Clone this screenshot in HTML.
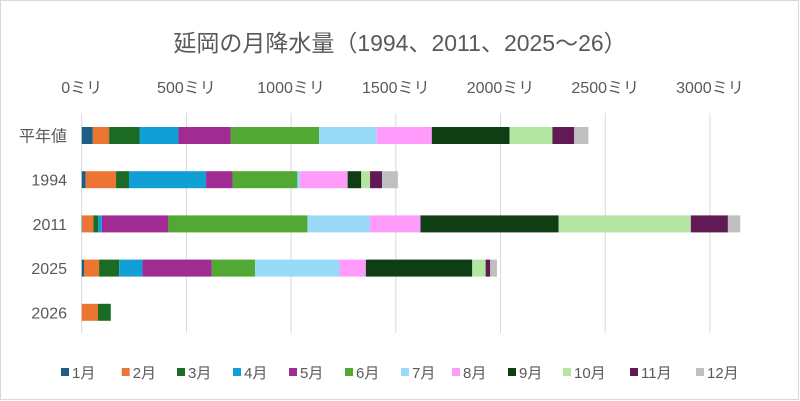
<!DOCTYPE html>
<html><head><meta charset="utf-8"><style>
html,body{margin:0;padding:0;background:#fff;}
svg{display:block;font-family:"Liberation Sans","Noto Sans CJK JP",sans-serif;}
</style></head><body>
<svg id="chart" width="800" height="401">
<rect x="0.5" y="0.5" width="798" height="399" fill="#fff" stroke="#d9d9d9"/>
<text x="400" y="51" text-anchor="middle" font-size="23" fill="#595959">延岡の月降水量（1994、2011、2025～26）</text>
<g id="grid"></g><g id="bars"></g><g id="legend"></g>
</svg>
<script>
const categories=["平年値","1994","2011","2025","2026"];
const months=["1月","2月","3月","4月","5月","6月","7月","8月","9月","10月","11月","12月"];
const colors=["#1b5e86","#ed7533","#1b6b24","#119fd6","#a02b92","#51a832","#99dbf7","#ff9bfb","#0f3e15","#b5e5a2","#621a55","#bfbfbf"];
const heinen=[53,78,145,186,250,422,275,263,371,205,104,68];
const y1994=[19,145,62,368,126,310,13,227,65,42,57,76];
const y2011=[3,53,22,18,318,664,299,241,659,632,177,59];
const y2025=[11,72,96,111,331,207,403,126,508,64,22,32];
const y2026=[0,78,61,0,0,0,0,0,0,0,0,0];
const ticks=[0,500,1000,1500,2000,2500,3000];
const series=[heinen,y1994,y2011,y2025,y2026];
const NS="http://www.w3.org/2000/svg";
const x0=81.7,pxPer=0.2094;
function xs(v){return x0+v*pxPer;}
function yc(i){return 135.5+i*44.2;}
const grid=document.getElementById('grid');
ticks.forEach(t=>{
 const l=document.createElementNS(NS,'line');
 l.setAttribute('x1',xs(t));l.setAttribute('x2',xs(t));l.setAttribute('y1',113);l.setAttribute('y2',333);
 l.setAttribute('stroke','#d9d9d9');l.setAttribute('stroke-width','1');
 
 
 grid.appendChild(l);
 const tx=document.createElementNS(NS,'text');
 tx.setAttribute('x',xs(t));tx.setAttribute('y',93);tx.setAttribute('text-anchor','middle');
 tx.setAttribute('font-size','16');tx.setAttribute('fill','#595959');
 tx.textContent=t+'ミリ';
 
 
 grid.appendChild(tx);
});
const bars=document.getElementById('bars');
categories.forEach((c,i)=>{
 const tx=document.createElementNS(NS,'text');
 tx.setAttribute('x',67);tx.setAttribute('y',yc(i)+6);tx.setAttribute('text-anchor','end');
 tx.setAttribute('font-size','16');tx.setAttribute('fill','#595959');
 tx.textContent=c;
 
 
 bars.appendChild(tx);
 let acc=0;
 series[i].forEach((v,m)=>{
  if(v>0){
   const r=document.createElementNS(NS,'rect');
   r.setAttribute('x',xs(acc));r.setAttribute('width',v*pxPer);
   r.setAttribute('y',yc(i)-8.5);r.setAttribute('height',17);
   r.setAttribute('fill',colors[m]);
   
   
   bars.appendChild(r);
  }
  acc+=v;
 });
});
const legend=document.getElementById('legend');
const lx=[61,121.7,177,233,289,345,401,452,508,563,630,696];
months.forEach((m,i)=>{
 const r=document.createElementNS(NS,'rect');
 r.setAttribute('x',lx[i]);r.setAttribute('y',368);r.setAttribute('width',8);r.setAttribute('height',8);
 r.setAttribute('fill',colors[i]);
 
 
 legend.appendChild(r);
 const t=document.createElementNS(NS,'text');
 t.setAttribute('x',lx[i]+11);t.setAttribute('y',378);t.setAttribute('font-size','15');t.setAttribute('fill','#595959');
 t.textContent=m;
 
 
 legend.appendChild(t);
});
</script>
</body></html>
